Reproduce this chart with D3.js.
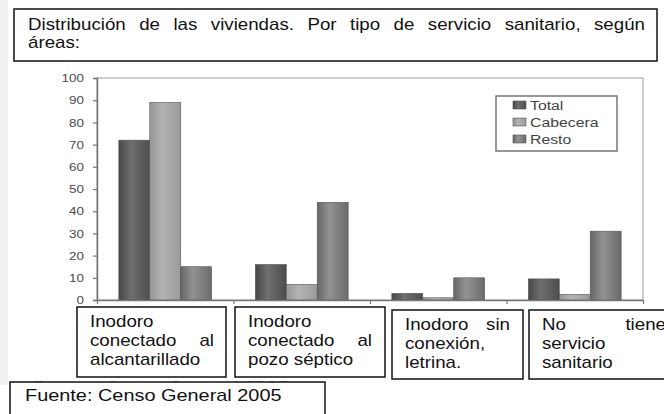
<!DOCTYPE html>
<html>
<head>
<meta charset="utf-8">
<script src="https://cdn.jsdelivr.net/npm/d3@7"></script>
<style>
  body { margin: 0; background: #fff; }
  text { font-family: "Liberation Sans", Arial, sans-serif; }
</style>
</head>
<body>
<div id="chart"></div>
<script>
const W = 664;
const H = 414;
const sx = 1.17; // the source picture is stretched sideways

// data
const categories = ["alcantarillado", "pozo", "letrina", "ninguno"];
const series = ["Total", "Cabecera", "Resto"];
const total = [72, 16, 3, 9.5];
const cabecera = [89, 7, 1, 2.5];
const resto = [15, 44, 10, 31];
const yTicks = [0, 10, 20, 30, 40, 50, 60, 70, 80, 90, 100];

const titleLines = ["Distribución de las viviendas. Por tipo de servicio sanitario, según", "áreas:"];
const catLabels = [
  ["Inodoro", "conectado al", "alcantarillado"],
  ["Inodoro", "conectado al", "pozo séptico"],
  ["Inodoro sin", "conexión,", "letrina."],
  ["No tiene", "servicio", "sanitario"]
];
const source = "Fuente: Censo General 2005";

const values = [total, cabecera, resto];

const svg = d3.select('#chart')
  .append('svg')
  .attr('width', W)
  .attr('height', H);

// gradients for the bars
const shades = {
  Total: ['#474747', '#6f6f6f', '#4d4d4d'],
  Cabecera: ['#979797', '#b3b3b3', '#9b9b9b'],
  Resto: ['#676767', '#929292', '#6b6b6b']
};
const defs = svg.append('defs');
series.forEach(s => {
  const g = defs.append('linearGradient')
    .attr('id', 'grad-' + s)
    .attr('x1', '0%').attr('x2', '100%').attr('y1', '0%').attr('y2', '0%');
  g.append('stop').attr('offset', '0%').attr('stop-color', shades[s][0]);
  g.append('stop').attr('offset', '40%').attr('stop-color', shades[s][1]);
  g.append('stop').attr('offset', '100%').attr('stop-color', shades[s][2]);
});
// only the top of the old source line peeks out between the boxes
defs.append('clipPath').attr('id', 'peek')
  .append('rect').attr('x', 0).attr('y', 376).attr('width', W).attr('height', 6);

// faint strip at the left edge of the scanned picture
svg.append('rect')
  .attr('x', 0).attr('y', 0).attr('width', 8).attr('height', 385)
  .attr('fill', '#f1f1f1');

// stretched text helper
function stext(sel, str, x, y, size, anchor, fill) {
  return sel.append('text')
    .attr('transform', 'translate(' + x + ',' + y + ') scale(' + sx + ',1)')
    .attr('text-anchor', anchor || 'start')
    .attr('font-size', size)
    .attr('fill', fill || '#111')
    .text(str);
}

// justified line: words spread between x0 and x1
function justify(sel, line, xa, xb, y, size) {
  const words = line.split(' ');
  if (words.length < 2) { stext(sel, line, xa, y, size); return; }
  const nodes = words.map(w => stext(sel, w, 0, y, size));
  const widths = nodes.map(n => n.node().getComputedTextLength() * sx);
  const gap = (xb - xa - d3.sum(widths)) / (words.length - 1);
  let x = xa;
  nodes.forEach((n, i) => {
    n.attr('transform', 'translate(' + x + ',' + y + ') scale(' + sx + ',1)');
    x += widths[i] + gap;
  });
}

// scales
const x0 = d3.scaleBand()
  .domain(categories)
  .range([97, 643])
  .paddingInner(0.32)
  .paddingOuter(0.16);

const x1 = d3.scaleBand()
  .domain(series)
  .range([0, x0.bandwidth()]);

const y = d3.scaleLinear()
  .domain([0, 100])
  .range([300, 78]);

// plot frame
svg.append('rect')
  .attr('x', 97).attr('y', y(100))
  .attr('width', 643 - 97).attr('height', y(0) - y(100))
  .attr('fill', 'none')
  .attr('stroke', '#bdbdbd')
  .attr('stroke-width', 1.5);

// bars
const groups = svg.selectAll('g.group')
  .data(categories)
  .enter()
  .append('g')
  .attr('class', 'group')
  .attr('transform', d => 'translate(' + x0(d) + ',0)');

groups.selectAll('rect')
  .data((d, i) => series.map((s, j) => ({ s: s, v: values[j][i] })))
  .enter()
  .append('rect')
  .attr('x', d => x1(d.s))
  .attr('y', d => y(d.v))
  .attr('width', x1.bandwidth())
  .attr('height', d => y(0) - y(d.v))
  .attr('fill', d => 'url(#grad-' + d.s + ')')
  .attr('stroke', '#555')
  .attr('stroke-width', 0.6);

// y axis
const yAxis = d3.axisLeft(y)
  .tickValues(yTicks)
  .tickSize(4)
  .tickPadding(9);

const ya = svg.append('g')
  .attr('transform', 'translate(97,0)')
  .call(yAxis);
ya.select('.domain').attr('stroke', '#777').attr('stroke-width', 1.5);
ya.selectAll('.tick line').attr('stroke', '#777').attr('stroke-width', 1.2);
ya.selectAll('.tick text')
  .attr('x', -13 / sx)
  .attr('transform', 'scale(' + sx + ',1)')
  .attr('font-size', 11.5)
  .attr('fill', '#4a4a4a')
  .attr('font-family', '"Liberation Sans", Arial, sans-serif');

// x axis with ticks between the groups
const xEdges = d3.scaleLinear().domain([0, categories.length]).range([97, 643]);
const xAxis = d3.axisBottom(xEdges)
  .tickValues(d3.range(categories.length + 1))
  .tickSize(4)
  .tickSizeOuter(0)
  .tickFormat('');
const xa = svg.append('g')
  .attr('transform', 'translate(0,' + y(0) + ')')
  .call(xAxis);
xa.select('.domain').attr('stroke', '#777').attr('stroke-width', 1.5);
xa.selectAll('.tick line').attr('stroke', '#777').attr('stroke-width', 1.2);

// legend
const lg = svg.append('g');
lg.append('rect')
  .attr('x', 496).attr('y', 96).attr('width', 121).attr('height', 55)
  .attr('fill', '#fff')
  .attr('stroke', '#777')
  .attr('stroke-width', 1.5);
series.forEach((s, i) => {
  const ly = 105 + i * 17;
  lg.append('rect')
    .attr('x', 513).attr('y', ly - 4).attr('width', 13).attr('height', 8)
    .attr('fill', 'url(#grad-' + s + ')')
    .attr('stroke', '#555')
    .attr('stroke-width', 0.6);
  stext(lg, s, 530, ly + 5, 13.5, 'start', '#444');
});

// title box
svg.append('rect')
  .attr('x', 14).attr('y', 9).attr('width', 643).attr('height', 52)
  .attr('fill', '#fff')
  .attr('stroke', '#111')
  .attr('stroke-width', 1.5);
justify(svg, titleLines[0], 28, 645, 30, 16);
stext(svg, titleLines[1], 28, 48, 16);

// faint source line of the original chart, mostly covered
stext(svg.append('g').attr('clip-path', 'url(#peek)'), source, 32, 393, 17, 'start', '#9a9a9a');

// category label boxes
const boxes = [
  { x: 77, y: 307, w: 149, h: 70 },
  { x: 235, y: 307, w: 150, h: 70 },
  { x: 392, y: 310, w: 131, h: 69 },
  { x: 529, y: 310, w: 150, h: 69 }
];
const rightEdge = [214, 372, 510, 666];
boxes.forEach((b, i) => {
  svg.append('rect')
    .attr('x', b.x).attr('y', b.y).attr('width', b.w).attr('height', b.h)
    .attr('fill', '#fff')
    .attr('stroke', '#111')
    .attr('stroke-width', 1.5);
  catLabels[i].forEach((line, k) => {
    const ly = b.y + 20 + k * 19;
    const last = k === catLabels[i].length - 1;
    const words = line.split(' ');
    if (!last && words.length > 1) {
      justify(svg, line, b.x + 13, rightEdge[i], ly, 16);
    } else {
      stext(svg, line, b.x + 13, ly, 16);
    }
  });
});

// source box
svg.append('rect')
  .attr('x', 10).attr('y', 382).attr('width', 315).attr('height', 40)
  .attr('fill', '#fff')
  .attr('stroke', '#111')
  .attr('stroke-width', 1.5);
stext(svg, source, 25, 401, 17);
</script>
</body>
</html>
